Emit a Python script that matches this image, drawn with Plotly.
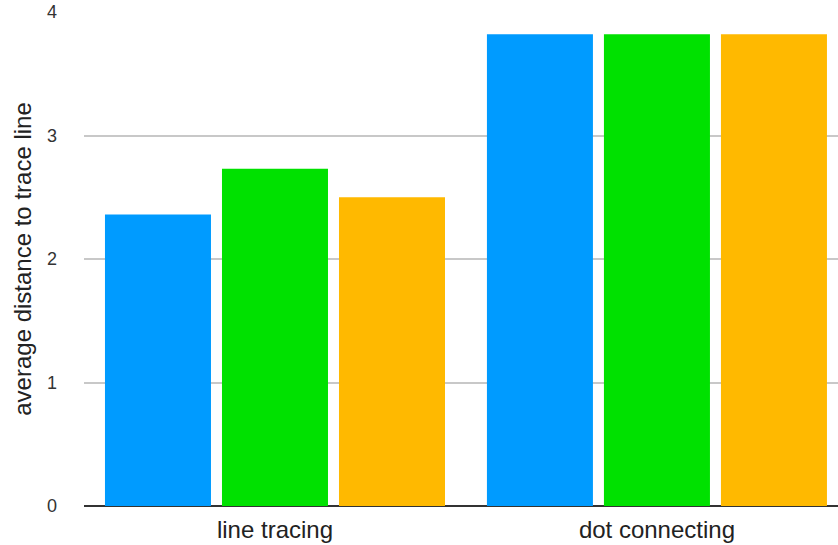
import plotly.graph_objects as go

# Task categories and per-series averages
categories = ["line tracing", "dot connecting"]
series_names = ["Series 1", "Series 2", "Series 3"]
series_1 = [2.36, 3.82]
series_2 = [2.73, 3.82]
series_3 = [2.50, 3.82]
series_colors = ["#009BFF", "#00E100", "#FFB900"]
y_ticks = [0, 1, 2, 3, 4]

fig = go.Figure()
for name, vals, col in zip(series_names, [series_1, series_2, series_3], series_colors):
    fig.add_trace(go.Bar(
        x=categories, y=vals, name=name,
        marker=dict(color=col, line=dict(width=0)),
    ))

fig.update_layout(
    width=838, height=545,
    margin=dict(l=84, r=0, t=12, b=39),
    paper_bgcolor="white", plot_bgcolor="white",
    barmode="group", bargap=0.081, bargroupgap=0.094,
    showlegend=False,
    font=dict(family="Liberation Sans, Arial, sans-serif", color="#222222"),
)
fig.update_xaxes(
    range=[-0.5, 1.474],
    showgrid=False, showline=False, zeroline=False,
    tickfont=dict(size=24, color="#222222"),
    ticks="", ticklabelstandoff=7,
)
fig.update_yaxes(
    range=[0, 4], tickvals=y_ticks,
    showgrid=True, gridcolor="#C8C8C8", gridwidth=1.5,
    zeroline=True, zerolinecolor="#333333", zerolinewidth=2,
    showline=False,
    tickfont=dict(size=18, color="#333333"),
    ticks="", ticklabelstandoff=26,
    title=dict(text="average distance to trace line", font=dict(size=24, color="#222222"), standoff=8),
)

fig.write_html("out.html")
